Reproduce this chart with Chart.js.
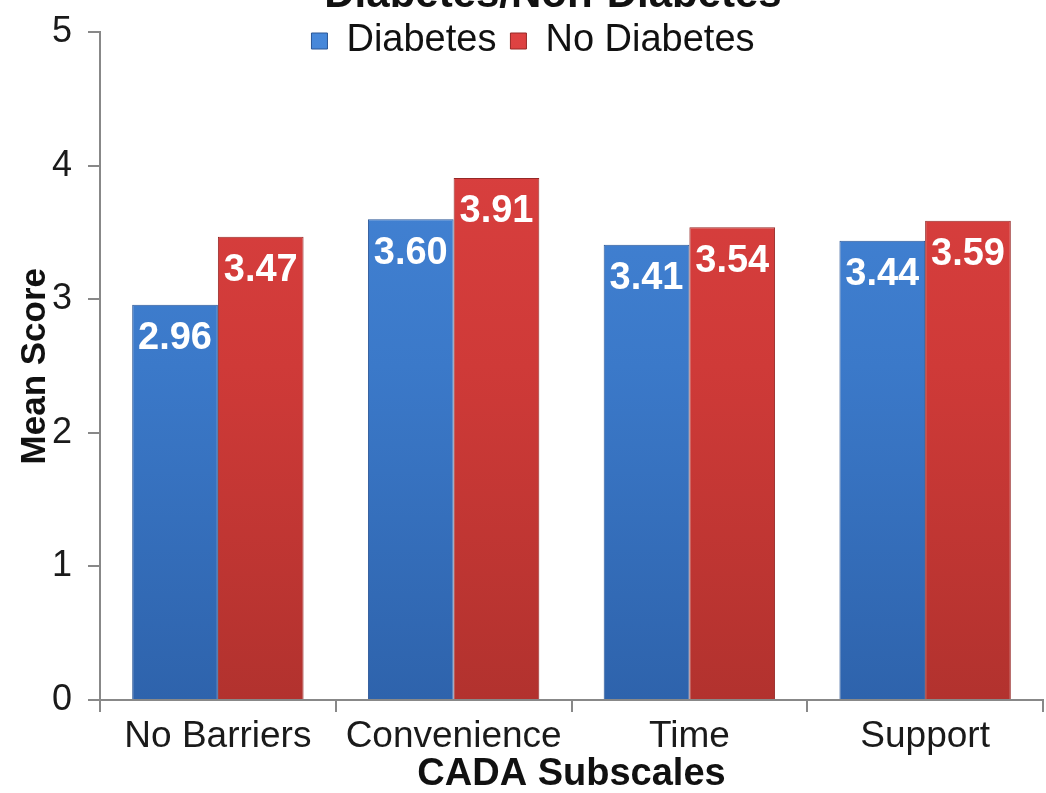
<!DOCTYPE html>
<html>
<head>
<meta charset="utf-8">
<script src="https://cdn.jsdelivr.net/npm/chart.js@4/dist/chart.umd.min.js"></script>
<style>
  html, body { margin: 0; padding: 0; background: #ffffff; }
  #wrap { position: relative; width: 1046px; height: 793px; overflow: hidden; }
  canvas { display: block; }
</style>
</head>
<body>
<div id="wrap"><canvas id="c" width="1046" height="793"></canvas></div>
<script>
const chartTitle = 'Diabetes/Non-Diabetes';
const categories = ['No Barriers', 'Convenience', 'Time', 'Support'];
const seriesNames = ['Diabetes', 'No Diabetes'];
const diabetesValues = [2.96, 3.60, 3.41, 3.44];
const noDiabetesValues = [3.47, 3.91, 3.54, 3.59];
const yTickValues = [0, 1, 2, 3, 4, 5];
const xAxisTitle = 'CADA Subscales';
const yAxisTitle = 'Mean Score';

const FONT = "'Liberation Sans', Arial, Helvetica, sans-serif";
const LEGEND_SIZE = 38;

const palettes = {
  blue: { top: '#4788DA', mid: '#3B79C9', bottom: '#2E63AC', flat: '#3B78C8', border: '#2A5696' },
  red:  { top: '#DE4242', mid: '#CF3A38', bottom: '#B2322E', flat: '#CF3A38', border: '#962826' }
};
const gradCache = {};
function barFill(key) {
  return function (ctx) {
    const chart = ctx.chart;
    const ca = chart.chartArea;
    const p = palettes[key];
    if (!ca) return p.flat;
    const id = key + ca.top + '_' + ca.bottom;
    if (!gradCache[id]) {
      const g = chart.ctx.createLinearGradient(0, ca.top, 0, ca.bottom);
      g.addColorStop(0, p.top);
      g.addColorStop(0.5, p.mid);
      g.addColorStop(1, p.bottom);
      gradCache[id] = g;
    }
    return gradCache[id];
  };
}

const shiftBoxes = {
  id: 'shiftBoxes',
  afterLayout(chart) {
    const t = chart.titleBlock;
    if (t) {
      const lh = 42 * 1.2;
      const curY = t.top + lh / 2;
      const dy = -5 - curY;
      const dx = 553 - (t.left + t.right) / 2;
      t.top += dy; t.bottom += dy; t.left += dx; t.right += dx;
    }
    const l = chart.legend;
    if (l) {
      const pad = l.options.labels.padding;
      const curY = l.top + pad + LEGEND_SIZE / 2;
      const dy = 41 - curY;
      const dx = 533 - (l.left + l.right) / 2;
      l.top += dy; l.bottom += dy; l.left += dx; l.right += dx;
    }
  }
};

const valueLabels = {
  id: 'valueLabels',
  afterDatasetsDraw(chart) {
    const ctx = chart.ctx;
    ctx.save();
    ctx.font = 'bold 38px ' + FONT;
    ctx.fillStyle = '#ffffff';
    ctx.textAlign = 'center';
    ctx.textBaseline = 'middle';
    chart.data.datasets.forEach((ds, di) => {
      const meta = chart.getDatasetMeta(di);
      meta.data.forEach((bar, i) => {
        ctx.fillText(ds.data[i].toFixed(2), bar.x, bar.y + 34);
      });
    });
    ctx.restore();
  }
};

new Chart(document.getElementById('c'), {
  type: 'bar',
  data: {
    labels: categories,
    datasets: [
      {
        label: seriesNames[0],
        data: diabetesValues,
        backgroundColor: barFill('blue'),
        borderColor: palettes.blue.border,
        borderWidth: 1,
        borderSkipped: 'bottom',
        categoryPercentage: 0.727,
        barPercentage: 1.0
      },
      {
        label: seriesNames[1],
        data: noDiabetesValues,
        backgroundColor: barFill('red'),
        borderColor: palettes.red.border,
        borderWidth: 1,
        borderSkipped: 'bottom',
        categoryPercentage: 0.727,
        barPercentage: 1.0
      }
    ]
  },
  options: {
    responsive: false,
    animation: false,
    devicePixelRatio: 1,
    layout: { autoPadding: false, padding: { top: -80, right: 3, left: 0, bottom: 0 } },
    plugins: {
      tooltip: { enabled: false },
      title: {
        display: true,
        text: chartTitle,
        color: '#111111',
        font: { family: FONT, size: 42, weight: 'bold', lineHeight: 1.2 },
        padding: { top: 0, bottom: 0 }
      },
      legend: {
        display: true,
        position: 'top',
        labels: {
          color: '#111111',
          font: { family: FONT, size: LEGEND_SIZE },
          boxWidth: 16,
          boxHeight: 16,
          padding: 14
        }
      }
    },
    scales: {
      x: {
        type: 'category',
        offset: true,
        grid: {
          display: true,
          offset: true,
          drawOnChartArea: false,
          drawTicks: true,
          tickLength: 12,
          color: '#888888',
          lineWidth: 2
        },
        border: { display: true, color: '#888888', width: 2 },
        ticks: {
          color: '#1a1a1a',
          font: { family: FONT, size: 37 },
          padding: 3,
          maxRotation: 0,
          autoSkip: false
        },
        title: {
          display: true,
          text: xAxisTitle,
          color: '#111111',
          font: { family: FONT, size: 38, weight: 'bold', lineHeight: 1.2 },
          padding: { top: 0, bottom: -4 }
        },
        afterFit(scale) { scale.height = 93; }
      },
      y: {
        min: 0,
        max: 5,
        afterBuildTicks(scale) { scale.ticks = yTickValues.map(v => ({ value: v })); },
        grid: {
          display: true,
          drawOnChartArea: false,
          drawTicks: true,
          tickLength: 12,
          color: '#888888',
          lineWidth: 2
        },
        border: { display: true, color: '#888888', width: 2 },
        ticks: {
          color: '#1a1a1a',
          font: { family: FONT, size: 36 },
          padding: 16
        },
        title: {
          display: true,
          text: yAxisTitle,
          color: '#111111',
          font: { family: FONT, size: 35, weight: 'bold', lineHeight: 1.2 },
          padding: { top: 14, bottom: 0 }
        },
        afterFit(scale) {
          scale.width = 100;
          scale.paddingTop = 0;
          scale.paddingBottom = 0;
        }
      }
    }
  },
  plugins: [shiftBoxes, valueLabels]
});
</script>
</body>
</html>
